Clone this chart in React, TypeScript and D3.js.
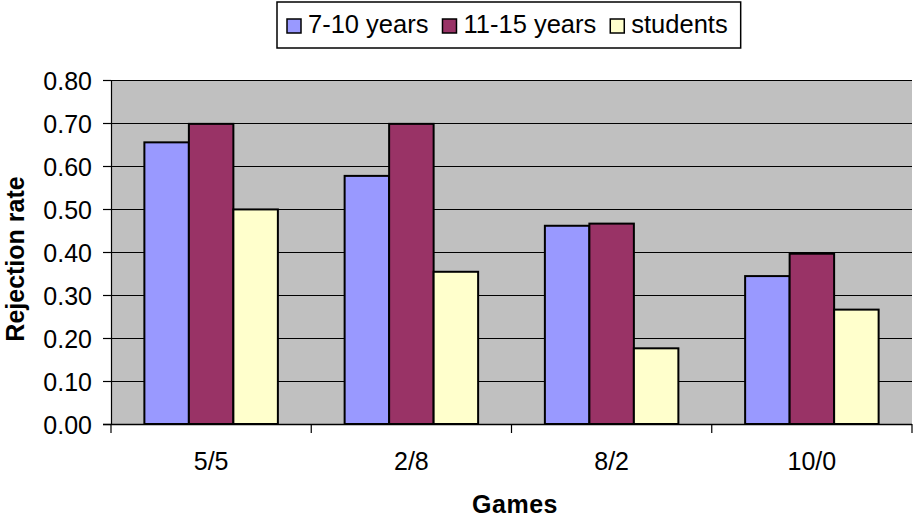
import * as d3 from "d3"
import { useRef, useEffect } from "react"

const games = ["5/5", "2/8", "8/2", "10/0"]
const seriesNames = ["7-10 years", "11-15 years", "students"]
const seriesColors = ["#9999FF", "#993366", "#FFFFCC"]
const young = [0.655, 0.577, 0.461, 0.344]
const older = [0.698, 0.698, 0.466, 0.396]
const students = [0.499, 0.354, 0.176, 0.266]
const yTicks = [0, 0.1, 0.2, 0.3, 0.4, 0.5, 0.6, 0.7, 0.8]

const FONT = "Arial, 'Liberation Sans', sans-serif"

export default function App() {
  const svgRef = useRef<SVGSVGElement>(null)

  useEffect(() => {
    if (!svgRef.current) return
    document.body.style.margin = "0"
    const width = 913
    const height = 520
    const m = { top: 80, right: 1, bottom: 96, left: 111 }

    const svg = d3.select(svgRef.current)
    svg.selectAll("*").remove()
    svg.attr("width", width).attr("height", height).style("display", "block")

    const values = [young, older, students]

    const x = d3.scaleBand().domain(games).range([m.left, width - m.right]).paddingInner(0).paddingOuter(0)
    const x1 = d3
      .scaleBand()
      .domain(seriesNames)
      .range([0, x.bandwidth()])
      .paddingOuter(0.75)
      .paddingInner(0)
    const y = d3.scaleLinear().domain([0, 0.8]).range([height - m.bottom, m.top])

    // plot background
    svg
      .append("rect")
      .attr("x", m.left)
      .attr("y", m.top)
      .attr("width", width - m.right - m.left)
      .attr("height", y(0) - m.top)
      .attr("fill", "#C0C0C0")

    // gridlines
    svg
      .append("g")
      .selectAll("line")
      .data(yTicks.filter((t) => t > 0))
      .join("line")
      .attr("x1", m.left)
      .attr("x2", width - m.right)
      .attr("y1", (d) => Math.round(y(d)) + 0.5)
      .attr("y2", (d) => Math.round(y(d)) + 0.5)
      .attr("stroke", "#000")
      .attr("stroke-width", 1.2)

    // bars
    const groups = svg
      .append("g")
      .selectAll("g")
      .data(games)
      .join("g")
      .attr("transform", (d) => `translate(${x(d)},0)`)

    groups
      .selectAll("rect")
      .data((_, i) => seriesNames.map((s, k) => ({ s, k, v: values[k][i] })))
      .join("rect")
      .attr("x", (d) => x1(d.s)!)
      .attr("y", (d) => y(d.v))
      .attr("width", x1.bandwidth())
      .attr("height", (d) => y(0) - y(d.v))
      .attr("fill", (d) => seriesColors[d.k])
      .attr("stroke", "#000")
      .attr("stroke-width", 2)

    // y axis
    const yAxis = svg
      .append("g")
      .attr("transform", `translate(${m.left},0)`)
      .call(
        d3
          .axisLeft(y)
          .tickValues(yTicks)
          .tickSize(8)
          .tickPadding(11)
          .tickFormat((d) => d3.format(".2f")(d as number)),
      )
    yAxis.select(".domain").attr("stroke", "#000").attr("stroke-width", 1.2)
    yAxis.selectAll(".tick line").attr("stroke", "#000").attr("stroke-width", 1.2)
    yAxis
      .selectAll("text")
      .attr("fill", "#000")
      .style("font-family", FONT)
      .style("font-size", "25px")
      .attr("dy", "0.36em")

    // x axis
    const xAxis = svg.append("g").attr("transform", `translate(0,${y(0)})`)
    xAxis
      .append("line")
      .attr("x1", m.left - 8)
      .attr("x2", width - m.right)
      .attr("y1", 0.5)
      .attr("y2", 0.5)
      .attr("stroke", "#000")
      .attr("stroke-width", 1.5)
    const bounds = games.map((g) => x(g)!).concat([width - m.right])
    xAxis
      .selectAll("line.tk")
      .data(bounds)
      .join("line")
      .attr("class", "tk")
      .attr("x1", (d) => d)
      .attr("x2", (d) => d)
      .attr("y1", 0)
      .attr("y2", 9)
      .attr("stroke", "#000")
      .attr("stroke-width", 1.2)
    xAxis
      .selectAll("text")
      .data(games)
      .join("text")
      .attr("x", (d) => x(d)! + x.bandwidth() / 2)
      .attr("y", 46)
      .attr("text-anchor", "middle")
      .style("font-family", FONT)
      .style("font-size", "25px")
      .text((d) => d)

    // axis titles
    svg
      .append("text")
      .attr("x", 515)
      .attr("y", 513)
      .attr("text-anchor", "middle")
      .style("font-family", FONT)
      .style("font-size", "25px")
      .style("font-weight", "700")
      .style("letter-spacing", "0.5px")
      .text("Games")
    svg
      .append("text")
      .attr("transform", `translate(24,259) rotate(-90)`)
      .attr("text-anchor", "middle")
      .style("font-family", FONT)
      .style("font-size", "25px")
      .style("font-weight", "700")
      .text("Rejection rate")

    // legend
    const legend = svg.append("g")
    const box = legend
      .append("rect")
      .attr("fill", "#fff")
      .attr("stroke", "#000")
      .attr("stroke-width", 1.5)
    let cx = 287
    seriesNames.forEach((name, i) => {
      legend
        .append("rect")
        .attr("x", cx)
        .attr("y", 19)
        .attr("width", 14)
        .attr("height", 14)
        .attr("fill", seriesColors[i])
        .attr("stroke", "#000")
        .attr("stroke-width", 1.5)
      const t = legend
        .append("text")
        .attr("x", cx + 21)
        .attr("y", 33)
        .style("font-family", FONT)
        .style("font-size", "25.5px")
        .text(name)
      const w = (t.node() as SVGTextElement).getComputedTextLength()
      cx = cx + 21 + w + 14
    })
    box.attr("x", 277).attr("y", 2).attr("width", cx - 14 + 13 - 277).attr("height", 46)
  }, [])

  return <svg ref={svgRef}></svg>
}
